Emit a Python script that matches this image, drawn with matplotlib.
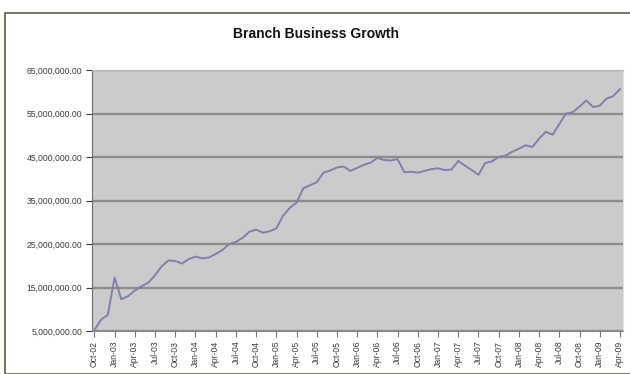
import matplotlib.pyplot as plt
from matplotlib.patches import Rectangle
from matplotlib.ticker import FuncFormatter

# monthly business, Oct-02 .. Apr-09 (millions)
business_m = [5.2, 7.6, 8.7, 17.3, 12.3, 13.0, 14.3, 15.3, 16.1, 17.8,
              19.9, 21.2, 21.1, 20.5, 21.5, 22.1, 21.7, 21.9, 22.7, 23.6,
              25.0, 25.5, 26.4, 27.8, 28.3, 27.6, 27.9, 28.6, 31.5, 33.3,
              34.5, 37.8, 38.5, 39.2, 41.4, 41.9, 42.6, 42.8, 41.8, 42.5,
              43.2, 43.7, 44.8, 44.3, 44.2, 44.5, 41.5, 41.6, 41.4, 41.8,
              42.2, 42.4, 42.0, 42.1, 44.1, 43.0, 42.0, 40.9, 43.6, 44.0,
              45.0, 45.3, 46.2, 46.9, 47.7, 47.3, 49.2, 50.8, 50.1, 52.6,
              55.0, 55.3, 56.6, 58.0, 56.5, 56.8, 58.4, 59.0, 60.6]

quarter_labels = ['Oct-02', 'Jan-03', 'Apr-03', 'Jul-03', 'Oct-03', 'Jan-04',
                  'Apr-04', 'Jul-04', 'Oct-04', 'Jan-05', 'Apr-05', 'Jul-05',
                  'Oct-05', 'Jan-06', 'Apr-06', 'Jul-06', 'Oct-06', 'Jan-07',
                  'Apr-07', 'Jul-07', 'Oct-07', 'Jan-08', 'Apr-08', 'Jul-08',
                  'Oct-08', 'Jan-09', 'Apr-09']

y_ticks = [5e6, 15e6, 25e6, 35e6, 45e6, 55e6, 65e6]

plt.rcParams['font.family'] = ['Liberation Sans', 'DejaVu Sans']

fig = plt.figure(figsize=(6.3, 3.74), dpi=100)
W, H = 630, 374

# chart area border
fig.patches.append(Rectangle((5 / W, 0), 1.0, (H - 13) / H, transform=fig.transFigure,
                             fill=False, edgecolor='#5c5c4c', linewidth=1.2))

ax = fig.add_axes([92 / W, (H - 331) / H, 531 / W, 261 / H])
ax.set_facecolor('#cbcbcb')

months = list(range(len(business_m)))
values = [v * 1e6 for v in business_m]
ax.plot(months, values, color='#8080ac', linewidth=1.4)

ax.set_xlim(-0.35, 78.45)
ax.set_ylim(5e6, 65e6)
ax.set_yticks(y_ticks)
ax.yaxis.set_major_formatter(FuncFormatter(lambda v, p: '{:,.2f}'.format(v)))
ax.set_xticks(months[::3])
ax.set_xticklabels(quarter_labels, rotation=90)

ax.grid(axis='y', color='#8c8c8c', linewidth=1.7)
ax.set_axisbelow(True)
ax.tick_params(axis='both', labelsize=6.2, colors='#3a3a3a', length=4, width=0.8,
               direction='out', pad=3)
ax.tick_params(axis='x', colors='#777777', labelcolor='#3a3a3a')

ax.spines['left'].set_color('#6e6e6e')
ax.spines['bottom'].set_color('#8a8a8a')
ax.spines['top'].set_color('#b8b8b8')
ax.spines['right'].set_color('#e0e0e0')

fig.text(316 / W, 1 - 34 / H, 'Branch Business Growth', ha='center', va='center',
         fontsize=10, fontweight='bold', color='#111111')

fig.savefig('out.png', dpi=100)
